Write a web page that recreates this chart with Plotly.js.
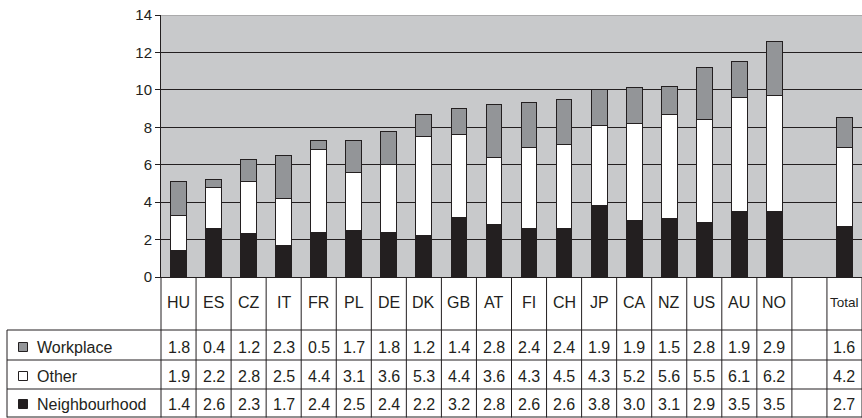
<!DOCTYPE html>
<html>
<head>
<meta charset="utf-8">
<script src="https://cdn.plot.ly/plotly-3.0.1.min.js"></script>
<style>html,body{margin:0;padding:0;background:#fff;}#chart{width:862px;height:418px;}</style>
</head>
<body>
<div id="chart"></div>
<script>
// ---- data ----
const categories = ['HU','ES','CZ','IT','FR','PL','DE','DK','GB','AT','FI','CH','JP','CA','NZ','US','AU','NO',' ','Total'];
const workplace     = [1.8,0.4,1.2,2.3,0.5,1.7,1.8,1.2,1.4,2.8,2.4,2.4,1.9,1.9,1.5,2.8,1.9,2.9,null,1.6];
const other         = [1.9,2.2,2.8,2.5,4.4,3.1,3.6,5.3,4.4,3.6,4.3,4.5,4.3,5.2,5.6,5.5,6.1,6.2,null,4.2];
const neighbourhood = [1.4,2.6,2.3,1.7,2.4,2.5,2.4,2.2,3.2,2.8,2.6,2.6,3.8,3.0,3.1,2.9,3.5,3.5,null,2.7];
const seriesNames = ['Workplace','Other','Neighbourhood'];
const yTicks = [0,2,4,6,8,10,12,14];

// ---- style ----
const INK = '#231f20';
const GREY_BAR = '#939598';
const BG = '#c8c9cb';
const FONT = 'Liberation Sans, Arial, Helvetica, sans-serif';
const colors = {Workplace: GREY_BAR, Other: '#ffffff', Neighbourhood: INK};

// layout geometry (pixels)
const W = 862, H = 418, L = 161, T = 15, PB = 277;
const PH = PB - T, PW = W - L;
const py = p => (PB - p) / PH;
const px = p => (p - L) / PW;

const seriesData = {Workplace: workplace, Other: other, Neighbourhood: neighbourhood};
const traces = ['Neighbourhood','Other','Workplace'].map(n => ({
  type: 'bar', name: n, x: categories, y: seriesData[n], width: 0.45,
  marker: {color: colors[n], line: {color: INK, width: 1}},
  hoverinfo: 'x+y+name'
}));

const shapes = [];
const annotations = [];
// header row + table column lines (through axis)
for (let k = 1; k <= categories.length; k++) {
  shapes.push({type:'line', xref:'x', yref:'paper', x0:k-0.5, x1:k-0.5, y0:py(PB), y1:py(417.5), line:{color:INK, width:1}});
}
shapes.push({type:'line', xref:'paper', yref:'paper', x0:0, x1:0, y0:py(PB), y1:py(417.5), line:{color:INK, width:1}});
shapes.push({type:'line', xref:'paper', yref:'paper', x0:px(7), x1:px(7), y0:py(330), y1:py(417.5), line:{color:INK, width:1}});
[330, 360, 389, 417].forEach(yy => {
  shapes.push({type:'line', xref:'paper', yref:'paper', x0:px(7), x1:1, y0:py(yy), y1:py(yy), line:{color:INK, width:1}});
});
// lighter top border at 14
shapes.push({type:'line', xref:'paper', yref:'y', x0:0, x1:1, y0:14, y1:14, line:{color:'#8c8c8c', width:1}});

// header labels
categories.forEach((c, i) => {
  annotations.push({xref:'x', yref:'paper', x:i, y:py(302), text:c, showarrow:false,
    xanchor:'center', yanchor:'middle',
    font:{family:FONT, size: c === 'Total' ? 13.5 : 16, color:INK}});
});
// table rows
const rowY = {Workplace: 347, Other: 376, Neighbourhood: 404};
seriesNames.forEach(n => {
  const yc = rowY[n];
  shapes.push({type:'rect', xref:'paper', yref:'paper', x0:px(18.5), x1:px(27.5), y0:py(yc-4.5), y1:py(yc+4.5),
    fillcolor:colors[n], line:{color:INK, width:1}});
  annotations.push({xref:'paper', yref:'paper', x:px(35), y:py(yc), text:n, showarrow:false,
    xanchor:'left', yanchor:'middle', font:{family:FONT, size:16, color:INK}});
  seriesData[n].forEach((v, i) => {
    if (v === null) return;
    annotations.push({xref:'x', yref:'paper', x:i, y:py(yc), text:v.toFixed(1), showarrow:false,
      xanchor:'center', yanchor:'middle', font:{family:FONT, size:16, color:INK}});
  });
});

const layout = {
  width: W, height: H,
  margin: {l: L, r: 0, t: T, b: H - PB, pad: 0},
  paper_bgcolor: '#ffffff', plot_bgcolor: BG,
  barmode: 'stack', showlegend: false,
  font: {family: FONT, color: INK},
  xaxis: {type:'category', range:[-0.5, categories.length - 0.5], showline:true, linecolor:INK, linewidth:1,
    showticklabels:false, ticks:'', showgrid:false, zeroline:false, fixedrange:true},
  yaxis: {range:[0,14], tickvals:yTicks, ticktext:yTicks.map(String), showgrid:true, gridcolor:INK, gridwidth:1,
    showline:true, linecolor:INK, linewidth:1, ticks:'outside', ticklen:5, tickcolor:INK, tickwidth:1,
    zeroline:false, tickfont:{family:FONT, size:15, color:INK}, fixedrange:true},
  shapes: shapes,
  annotations: annotations
};

Plotly.newPlot('chart', traces, layout, {displayModeBar:false, staticPlot:true});
</script>
</body>
</html>
